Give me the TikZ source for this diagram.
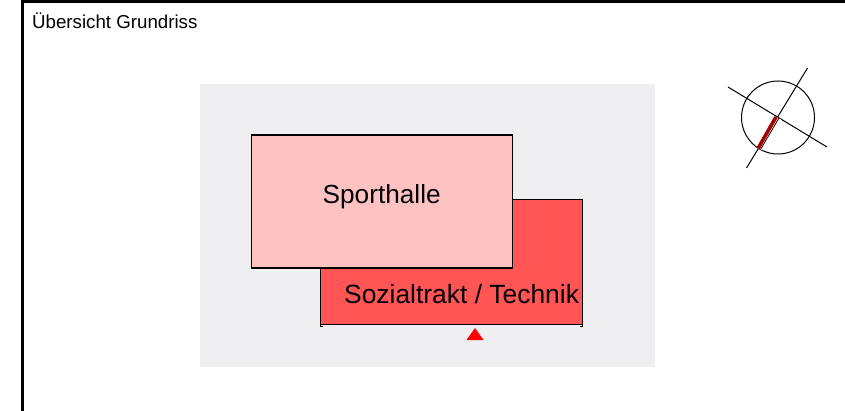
\documentclass[tikz,border=0pt]{standalone}
\usepackage{fontspec}
\setmainfont{Liberation Sans}
\definecolor{siteGray}{HTML}{EFEFF2}
\definecolor{hallPink}{HTML}{FFC2C2}
\definecolor{socialRed}{HTML}{FF5555}
\definecolor{northRed}{HTML}{A80000}
\tikzset{
  frameline/.style={draw=black,line width=2.5pt},
  bldg/.style={draw=black,line width=1.3pt},
  thin line/.style={draw=black,line width=1pt},
  label text/.style={inner sep=0pt,anchor=base west,text=black}
}
\begin{document}
\begin{tikzpicture}[x=1pt,y=-1pt]
\useasboundingbox (0,0) rectangle (845,411);
\fill[white] (0,0) rectangle (845,411);
\draw[frameline] (22.5,411) -- (22.5,1.5) -- (845,1.5);
\node[label text,font=\fontsize{18.7}{20}\selectfont] (title) at (32,28.7) {Übersicht Grundriss};
\fill[siteGray] (200,84) rectangle (655,367);
% Sozialtrakt
\fill[socialRed] (320,199) rectangle (582,325);
\draw[bldg] (322.5,326.3) -- (320.4,326.3) -- (320.4,199.5) -- (582.2,199.5) -- (582.2,326.3) -- (580,326.3);
\draw[bldg] (320.4,324.3) -- (582.2,324.3);
\node[label text,font=\fontsize{26.4}{28}\selectfont] (social) at (344,303.5) {Sozialtrakt / Technik};
% Sporthalle
\filldraw[fill=hallPink,bldg] (251.8,135) rectangle (512.8,268);
\node[label text,font=\fontsize{26.2}{28}\selectfont] (hall) at (322.5,203.8) {Sporthalle};
% entrance
\fill[red] (466.5,340) -- (475,328) -- (483.5,340) -- cycle;
% compass
\draw[thin line] (778,117.5) circle (36.5);
\draw[thin line] (728,87) -- (827,147);
\draw[thin line] (807.5,68) -- (746.5,168);
\fill[white] (776,117) -- (781,119.5) -- (762,150) -- (757,148) -- cycle;
\draw[northRed,line width=3.6pt] (776,117) -- (758,148.5);
\draw[black,line width=0.8pt] (779,118) -- (760.5,149.5);
\end{tikzpicture}
\end{document}
